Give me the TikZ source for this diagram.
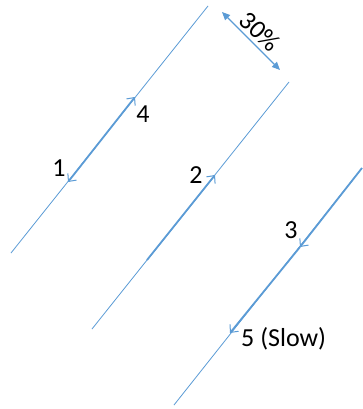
\documentclass[tikz,border=0pt]{standalone}
\usepackage{fontspec}
\setmainfont{Carlito}
\usetikzlibrary{arrows.meta}
\definecolor{lineblue}{HTML}{5B9BD5}
\tikzset{
  thinline/.style={draw=lineblue, line width=0.8pt},
  thickline/.style={draw=lineblue, line width=1.8pt},
  vtip/.style={-{Straight Barb[length=6pt,width=11pt,line width=1pt]}},
  lbl/.style={font=\fontsize{26}{30}\selectfont, inner sep=0pt, anchor=base}
}
\begin{document}
\begin{tikzpicture}[x=1pt,y=-1pt]
\useasboundingbox (0,0) rectangle (362,409);
% line 1
\coordinate (l1a) at (11,253);
\coordinate (l1b) at (208,6);
\coordinate (p1) at (68,182);
\coordinate (p4) at (135,97);
\draw[thinline] (l1a) -- (l1b);
\draw[thickline, {Straight Barb[length=6pt,width=11pt,line width=1pt]}-{Straight Barb[length=6pt,width=11pt,line width=1pt]}] (p1) -- (p4);
% line 2
\coordinate (l2a) at (92,329);
\coordinate (l2b) at (289,82);
\coordinate (s2) at (147,260);
\coordinate (p2) at (215,175);
\draw[thinline] (l2a) -- (l2b);
\draw[thickline, vtip] (s2) -- (p2);
% line 3
\coordinate (l3a) at (174,405);
\coordinate (l3b) at (362,168);
\coordinate (p3) at (300,247);
\coordinate (p5) at (230,333);
\draw[thinline] (l3a) -- (l3b);
\draw[thickline, vtip] (l3b) -- (p3);
\draw[thickline, vtip] (p3) -- (p5);
% 30% arrow
\coordinate (d1) at (222,12);
\coordinate (d2) at (280,70);
\draw[draw=lineblue, line width=1.2pt, {Triangle[length=8pt,width=7pt]}-{Triangle[length=8pt,width=7pt]}] (d1) -- (d2);
\node[font=\fontsize{26}{30}\selectfont, inner sep=0pt, rotate=-43] (pct) at (260,31) {30\%};
% labels
\node[lbl] (t1) at (59,176) {1};
\node[lbl] (t4) at (143,122) {4};
\node[lbl] (t2) at (196,183) {2};
\node[lbl] (t3) at (291,238) {3};
\node[lbl, anchor=base west] (t5) at (241,346) {5 (Slow)};
\end{tikzpicture}
\end{document}
